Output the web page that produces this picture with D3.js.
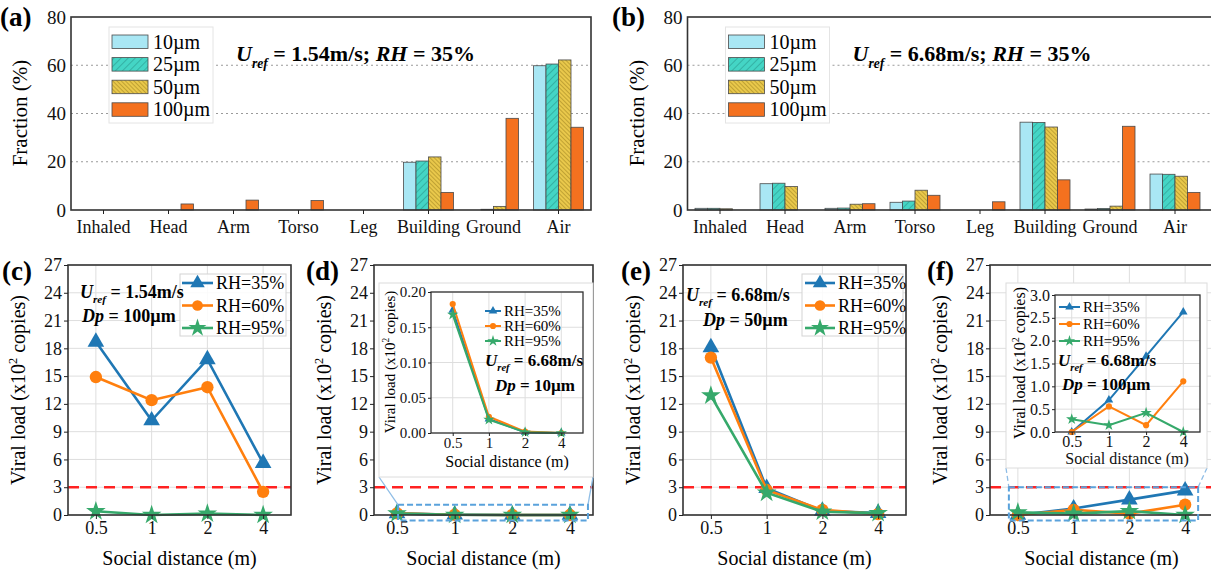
<!DOCTYPE html>
<html lang="en">
  <head>
    <meta charset="UTF-8" />
    <title>Deposition fractions and viral load</title>
    <style>
      body { margin: 0; background: #fff; }
      text { white-space: pre; }
    </style>
  </head>
  <body>
    <svg id="svg" width="1211" height="573"></svg>
    <script src="https://cdn.jsdelivr.net/npm/d3@7"></script>
    <script>
      // DATA
      const categories = ["Inhaled", "Head", "Arm", "Torso", "Leg", "Building", "Ground", "Air"];
      const sizes = ["10µm", "25µm", "50µm", "100µm"];
      const fracTicks = [0, 20, 40, 60, 80];

      // (a) Uref = 1.54 m/s, RH = 35%
      const a10 = [0, 0, 0, 0, 0, 19.8, 0, 59.8];
      const a25 = [0, 0, 0, 0, 0, 20.3, 0.3, 60.5];
      const a50 = [0, 0, 0, 0, 0, 22.0, 1.5, 62.2];
      const a100 = [0, 2.5, 4.1, 3.9, 0, 7.3, 38.0, 34.3];
      // (b) Uref = 6.68 m/s, RH = 35%
      const b10 = [0.7, 10.9, 0.7, 3.2, 0, 36.4, 0.4, 14.9];
      const b25 = [0.7, 11.1, 0.8, 3.7, 0, 36.3, 0.6, 14.8];
      const b50 = [0.5, 9.7, 2.4, 8.2, 0, 34.4, 1.6, 14.0];
      const b100 = [0, 0, 2.6, 6.1, 3.4, 12.5, 34.7, 7.3];

      const distances = ["0.5", "1", "2", "4"];
      const rhNames = ["RH=35%", "RH=60%", "RH=95%"];
      const loadTicks = [0, 3, 6, 9, 12, 15, 18, 21, 24, 27];
      const threshold = 3;

      // (c) Uref = 1.54 m/s, Dp = 100 µm
      const c35 = [18.7, 10.2, 16.8, 5.6];
      const c60 = [14.9, 12.4, 13.8, 2.5];
      const c95 = [0.4, 0.0, 0.15, 0.0];
      // (d) Uref = 6.68 m/s, Dp = 10 µm
      const d35 = [0.174, 0.020, 0.001, 0.0];
      const d60 = [0.183, 0.023, 0.002, 0.0];
      const d95 = [0.168, 0.019, 0.001, 0.0];
      const dInsetTicks = [0, 0.05, 0.1, 0.15, 0.2];
      // (e) Uref = 6.68 m/s, Dp = 50 µm
      const e35 = [18.1, 2.9, 0.45, 0.2];
      const e60 = [17.0, 2.7, 0.55, 0.1];
      const e95 = [12.9, 2.4, 0.35, 0.2];
      // (f) Uref = 6.68 m/s, Dp = 100 µm
      const f35 = [0.0, 0.7, 1.66, 2.63];
      const f60 = [0.0, 0.56, 0.15, 1.11];
      const f95 = [0.28, 0.15, 0.42, 0.0];
      const fInsetTicks = [0, 0.5, 1, 1.5, 2, 2.5, 3];

      // STYLE
      const SERIF = "Liberation Serif, Times New Roman, serif";
      const sizeFill = ["#a9e7f4", "url(#hatch25)", "url(#hatch50)", "#f4711f"];
      const rhColor = ["#1f77b4", "#ff7f0e", "#36a96b"];
      const rhSymbol = [d3.symbolTriangle, d3.symbolCircle, d3.symbolStar];

      const svg = d3.select("#svg").attr("font-family", SERIF);
      const defs = svg.append("defs");

      function hatch(id, fill, stroke, w, angle) {
        const p = defs.append("pattern").attr("id", id)
          .attr("patternUnits", "userSpaceOnUse")
          .attr("width", w).attr("height", w)
          .attr("patternTransform", `rotate(${angle})`);
        p.append("rect").attr("width", w).attr("height", w).attr("fill", fill);
        p.append("line").attr("x1", 0).attr("y1", 0).attr("x2", 0).attr("y2", w)
          .attr("stroke", stroke).attr("stroke-width", 0.9);
      }
      hatch("hatch25", "#44d5c5", "#23867d", 5, 45);
      hatch("hatch50", "#e9c84b", "#8d7418", 3, -45);

      function panelLabel(x, y, s) {
        svg.append("text").attr("x", x).attr("y", y)
          .attr("font-size", 27).attr("font-weight", "bold").text(s);
      }

      // bold "U_ref = ..." annotation
      function urefText(g, x, y, fs, rest, rh) {
        const t = g.append("text").attr("x", x).attr("y", y)
          .attr("font-size", fs).attr("font-weight", "bold");
        t.append("tspan").attr("font-style", "italic").text("U");
        t.append("tspan").attr("font-style", "italic")
          .attr("font-size", fs * 0.62).attr("dy", fs * 0.3).text("ref");
        t.append("tspan").attr("dy", -fs * 0.3).text(rest);
        if (rh) {
          t.append("tspan").attr("font-style", "italic").text("RH");
          t.append("tspan").text(rh);
        }
      }
      function dpText(g, x, y, fs, rest) {
        const t = g.append("text").attr("x", x).attr("y", y)
          .attr("font-size", fs).attr("font-weight", "bold");
        t.append("tspan").attr("font-style", "italic").text("Dp");
        t.append("tspan").text(rest);
      }
      function viralLabel(g, x, y, fs) {
        const t = g.append("text")
          .attr("transform", `translate(${x},${y}) rotate(-90)`)
          .attr("text-anchor", "middle").attr("font-size", fs);
        t.append("tspan").text("Viral load (x10");
        t.append("tspan").attr("font-size", fs * 0.62).attr("dy", -fs * 0.4).text("2");
        t.append("tspan").attr("dy", fs * 0.4).text(" copies)");
      }
      function styleAxis(g, fs) {
        g.attr("font-family", SERIF).attr("font-size", fs);
        g.select(".domain").remove();
        g.selectAll("line").attr("stroke", "#222");
        g.selectAll("text").attr("fill", "#111");
      }

      // BAR PANELS (a), (b)
      function barPanel(o) {
        const g = svg.append("g");
        const x = d3.scaleBand().domain(categories).range([o.x0, o.x0 + 520]);
        const xs = d3.scaleBand().domain(sizes).range([7.5, 57.5]);
        const y = d3.scaleLinear().domain([0, 80]).range([210, 17]);

        g.selectAll(".grid").data([20, 40, 60]).enter().append("line")
          .attr("x1", o.x0).attr("x2", o.x1)
          .attr("y1", (d) => y(d)).attr("y2", (d) => y(d))
          .attr("stroke", "#9a9a9a").attr("stroke-dasharray", "2,3");

        o.series.forEach((vals, k) => {
          g.append("g").selectAll("rect").data(vals).enter().append("rect")
            .attr("x", (d, i) => x(categories[i]) + xs(sizes[k]))
            .attr("y", (d) => y(d))
            .attr("width", xs.bandwidth())
            .attr("height", (d) => y(0) - y(d))
            .attr("fill", sizeFill[k])
            .attr("stroke", "#4a4a4a").attr("stroke-width", 0.8);
        });

        g.append("rect").attr("x", o.x0).attr("y", 17)
          .attr("width", o.x1 - o.x0).attr("height", 193)
          .attr("fill", "none").attr("stroke", "#333").attr("stroke-width", 1.6);

        const ax = g.append("g").attr("transform", "translate(0,210)")
          .call(d3.axisBottom(x).tickSize(4).tickPadding(6));
        styleAxis(ax, 18);
        const ay = g.append("g").attr("transform", `translate(${o.x0},0)`)
          .call(d3.axisLeft(y).tickValues(fracTicks).tickSize(0).tickPadding(5));
        styleAxis(ay, 19);

        g.append("text")
          .attr("transform", `translate(${o.x0 - 44},113) rotate(-90)`)
          .attr("text-anchor", "middle").attr("font-size", 21).text("Fraction (%)");

        // legend
        const lg = g.append("g").attr("transform", `translate(${o.x0 + 38},27)`);
        lg.append("rect").attr("width", 104).attr("height", 96)
          .attr("fill", "#fff").attr("stroke", "#e4e4e4");
        sizes.forEach((s, k) => {
          lg.append("rect").attr("x", 3).attr("y", 8 + k * 22.6)
            .attr("width", 36).attr("height", 13.5)
            .attr("fill", sizeFill[k]).attr("stroke", "#4a4a4a").attr("stroke-width", 0.8);
          lg.append("text").attr("x", 44).attr("y", 21.5 + k * 22.6)
            .attr("font-size", 20).text(s);
        });
        urefText(g, o.x0 + 165, 61, 22, " = " + o.speed + "; ", " = 35%");
      }

      barPanel({ x0: 71, x1: 591, series: [a10, a25, a50, a100], speed: "1.54m/s" });
      barPanel({ x0: 687.5, x1: 1214, series: [b10, b25, b50, b100], speed: "6.68m/s" });
      panelLabel(0, 26, "(a)");
      panelLabel(612, 26, "(b)");

      // LINE PANELS
      function linePlot(g, o) {
        const x = d3.scalePoint().domain(distances).range([o.x0, o.x1]).padding(o.pad);
        const y = d3.scaleLinear().domain(o.yDomain).range([o.y1, o.y0]);
        if (o.grid) {
          g.append("g").selectAll("line").data(o.yTicks).enter().append("line")
            .attr("x1", o.x0).attr("x2", o.x1)
            .attr("y1", (d) => y(d)).attr("y2", (d) => y(d))
            .attr("stroke", "#dedede");
          g.append("g").selectAll("line").data(distances).enter().append("line")
            .attr("x1", (d) => x(d)).attr("x2", (d) => x(d))
            .attr("y1", o.y0).attr("y2", o.y1).attr("stroke", "#dedede");
        }
        if (o.threshold) {
          g.append("line").attr("x1", o.x0).attr("x2", o.x1)
            .attr("y1", y(threshold)).attr("y2", y(threshold))
            .attr("stroke", "#ff2222").attr("stroke-width", 2.6)
            .attr("stroke-dasharray", "11,7");
        }
        const line = d3.line().x((d, i) => x(distances[i])).y((d) => y(d));
        o.series.forEach((vals, k) => {
          g.append("path").datum(vals).attr("d", line)
            .attr("fill", "none").attr("stroke", rhColor[k]).attr("stroke-width", o.lw);
          g.append("g").selectAll("path").data(vals).enter().append("path")
            .attr("d", d3.symbol().type(rhSymbol[k]).size(o.ms[k]))
            .attr("transform", (d, i) => `translate(${x(distances[i])},${y(d)})`)
            .attr("fill", rhColor[k]);
        });
        g.append("rect").attr("x", o.x0).attr("y", o.y0)
          .attr("width", o.x1 - o.x0).attr("height", o.y1 - o.y0)
          .attr("fill", "none").attr("stroke", "#333").attr("stroke-width", o.fw);
        const ax = g.append("g").attr("transform", `translate(0,${o.y1})`)
          .call(d3.axisBottom(x).tickSize(o.ts).tickPadding(o.tp));
        styleAxis(ax, o.fs);
        const ay = g.append("g").attr("transform", `translate(${o.x0},0)`)
          .call(d3.axisLeft(y).tickValues(o.yTicks).tickSize(o.ts).tickPadding(2)
            .tickFormat(o.fmt));
        styleAxis(ay, o.fs);
        return { x, y };
      }

      function legend(g, x, y, fs, len, gap, ms, box) {
        const lg = g.append("g").attr("transform", `translate(${x},${y})`);
        if (box) {
          lg.append("rect").attr("x", box[0]).attr("y", box[1])
            .attr("width", box[2]).attr("height", box[3])
            .attr("fill", "#fff").attr("fill-opacity", 0.85).attr("stroke", "#d4d4d4");
        }
        rhNames.forEach((n, k) => {
          lg.append("line").attr("x1", 0).attr("x2", len)
            .attr("y1", k * gap).attr("y2", k * gap)
            .attr("stroke", rhColor[k]).attr("stroke-width", fs > 16 ? 2.6 : 2);
          lg.append("path").attr("d", d3.symbol().type(rhSymbol[k]).size(ms[k]))
            .attr("transform", `translate(${len / 2},${k * gap})`).attr("fill", rhColor[k]);
          lg.append("text").attr("x", len + 3).attr("y", k * gap + fs * 0.34)
            .attr("font-size", fs).text(n);
        });
      }

      const bigMs = [120, 120, 120];
      const smallMs = [32, 30, 40];
      function mainPanel(x0, x1, pad, series, grid) {
        const g = svg.append("g");
        const s = linePlot(g, {
          x0, x1, y0: 265, y1: 515, pad, yDomain: [0, 27], yTicks: loadTicks,
          fmt: d3.format("d"), series, grid, threshold: true,
          lw: 2.6, ms: bigMs, fw: 1.6, fs: 18, ts: 4, tp: 2,
        });
        viralLabel(g, x0 - 43, 390, 20);
        g.append("text").attr("x", (x0 + x1) / 2).attr("y", 565)
          .attr("text-anchor", "middle").attr("font-size", 20).text("Social distance (m)");
        return { g, s };
      }

      // (c)
      const pc = mainPanel(68, 291, 0.5, [c35, c60, c95], true);
      legend(pc.g, 182, 283, 18, 31, 22.5, [90, 90, 100], [-2, -9, 106, 62]);
      urefText(pc.g, 80, 298, 18, " = 1.54m/s");
      dpText(pc.g, 82, 322, 18, " = 100µm");
      panelLabel(2, 280, "(c)");

      // (d)
      const pd = mainPanel(374, 593, 0.4, [d35, d60, d95], false);
      panelLabel(306, 280, "(d)");
      {
        const g = pd.g;
        const s = pd.s;
        const bx0 = s.x("0.5") + 1, bx1 = s.x("4") + 18;
        const by0 = s.y(1.1), by1 = s.y(-0.6);
        g.append("line").attr("x1", 379).attr("y1", 477).attr("x2", bx0).attr("y2", by0)
          .attr("stroke", "#8fbde6").attr("stroke-width", 1.3);
        g.append("line").attr("x1", 593).attr("y1", 477).attr("x2", bx1).attr("y2", by0)
          .attr("stroke", "#8fbde6").attr("stroke-width", 1.3);
        g.append("rect").attr("x", bx0).attr("y", by0).attr("width", bx1 - bx0).attr("height", by1 - by0)
          .attr("fill", "none").attr("stroke", "#5aa2dc").attr("stroke-width", 2)
          .attr("stroke-dasharray", "6,3");
        g.append("rect").attr("x", 379).attr("y", 283).attr("width", 214).attr("height", 194)
          .attr("fill", "#fff").attr("stroke", "#dcdcdc");
        linePlot(g, {
          x0: 431, x1: 583, y0: 292, y1: 433, pad: 0.6, yDomain: [0, 0.2], yTicks: dInsetTicks,
          fmt: d3.format(".2f"), series: [d35, d60, d95], grid: true, threshold: false,
          lw: 2, ms: smallMs, fw: 1.3, fs: 15, ts: 3, tp: 1,
        });
        viralLabel(g, 395, 362, 15);
        g.append("text").attr("x", 507).attr("y", 467).attr("text-anchor", "middle")
          .attr("font-size", 16).text("Social distance (m)");
        legend(g, 485, 311, 15, 16, 15, smallMs, null);
        urefText(g, 485, 366, 17, " = 6.68m/s");
        dpText(g, 495, 391, 17, " = 10µm");
      }

      // (e)
      const pe = mainPanel(683, 906, 0.5, [e35, e60, e95], true);
      legend(pe.g, 805, 283, 18, 30, 22.5, [90, 90, 100], [-3, -9, 101, 62]);
      urefText(pe.g, 686, 301, 18, " = 6.68m/s");
      dpText(pe.g, 703, 326, 18, " = 50µm");
      panelLabel(621, 280, "(e)");

      // (f)
      const pf = mainPanel(990, 1213, 0.5, [f35, f60, f95], true);
      panelLabel(927, 280, "(f)");
      {
        const g = pf.g;
        const s = pf.s;
        const bx0 = s.x("0.5") - 9, bx1 = s.x("4") + 13;
        const by0 = s.y(3), by1 = s.y(-0.6);
        g.append("line").attr("x1", 1006).attr("y1", 468).attr("x2", bx0).attr("y2", by0)
          .attr("stroke", "#8fbde6").attr("stroke-width", 1.3).attr("stroke-dasharray", "5,3");
        g.append("line").attr("x1", 1207).attr("y1", 468).attr("x2", bx1).attr("y2", by0)
          .attr("stroke", "#8fbde6").attr("stroke-width", 1.3).attr("stroke-dasharray", "5,3");
        g.append("rect").attr("x", bx0).attr("y", by0).attr("width", bx1 - bx0).attr("height", by1 - by0)
          .attr("fill", "none").attr("stroke", "#5aa2dc").attr("stroke-width", 2)
          .attr("stroke-dasharray", "6,3");
        g.append("rect").attr("x", 1006).attr("y", 283).attr("width", 201).attr("height", 185)
          .attr("fill", "#fff").attr("stroke", "#dcdcdc");
        linePlot(g, {
          x0: 1055, x1: 1200, y0: 295, y1: 432, pad: 0.45, yDomain: [0, 3], yTicks: fInsetTicks,
          fmt: d3.format(".1f"), series: [f35, f60, f95], grid: true, threshold: false,
          lw: 2, ms: smallMs, fw: 1.3, fs: 16, ts: 3, tp: 1,
        });
        viralLabel(g, 1025, 363, 16);
        g.append("text").attr("x", 1127).attr("y", 464).attr("text-anchor", "middle")
          .attr("font-size", 16).attr("fill", "#111").text("Social distance (m)");
        legend(g, 1059, 307, 15, 21, 17, smallMs, null);
        urefText(g, 1058, 366, 17, " = 6.68m/s");
        dpText(g, 1062, 390, 17, " = 100µm");
      }

      // every label in the serif face
      svg.selectAll("text").attr("font-family", SERIF);
    </script>
  </body>
</html>
